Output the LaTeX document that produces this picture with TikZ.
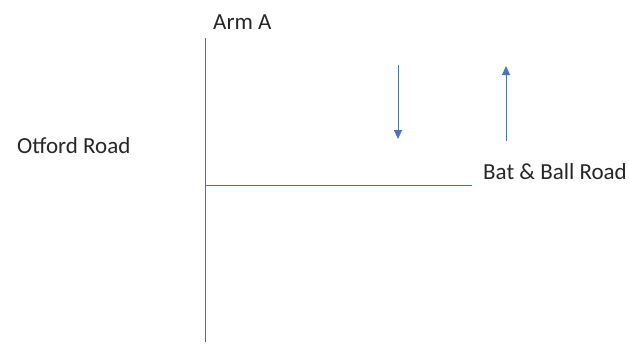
\documentclass[tikz,border=0pt]{standalone}
\usepackage{fontspec}
\setmainfont{Carlito}
\usetikzlibrary{arrows.meta}
\definecolor{roadblue}{RGB}{75,105,190}
\definecolor{arrowblue}{RGB}{68,114,196}
\tikzset{
  road/.style={draw=roadblue, line width=1pt},
  flow/.style={draw=arrowblue!85!gray, line width=0.8pt, -{Triangle[length=9pt,width=8pt]}},
  lbl/.style={font=\fontsize{23}{25}\selectfont, text=black!85, inner sep=0pt}
}
\begin{document}
\begin{tikzpicture}[x=1pt,y=-1pt]
\useasboundingbox (0,0) rectangle (629,346);
\coordinate (vtop) at (205,38);
\coordinate (vbot) at (205,342);
\coordinate (junc) at (205,185);
\coordinate (hend) at (472,185);
\draw[road] (vtop) -- (vbot);
\draw[road] (junc) -- (hend);
\node[lbl, anchor=west] (arma) at (213,22) {Arm A};
\node[lbl, anchor=west] (otford) at (17,146) {Otford Road};
\node[lbl, anchor=west] (bat) at (483,172) {Bat \& Ball Road};
\coordinate (d1) at (398,65);
\coordinate (d2) at (398,139);
\coordinate (u1) at (506,141);
\coordinate (u2) at (506,66);
\draw[flow] (d1) -- (d2);
\draw[flow] (u1) -- (u2);
\end{tikzpicture}
\end{document}
